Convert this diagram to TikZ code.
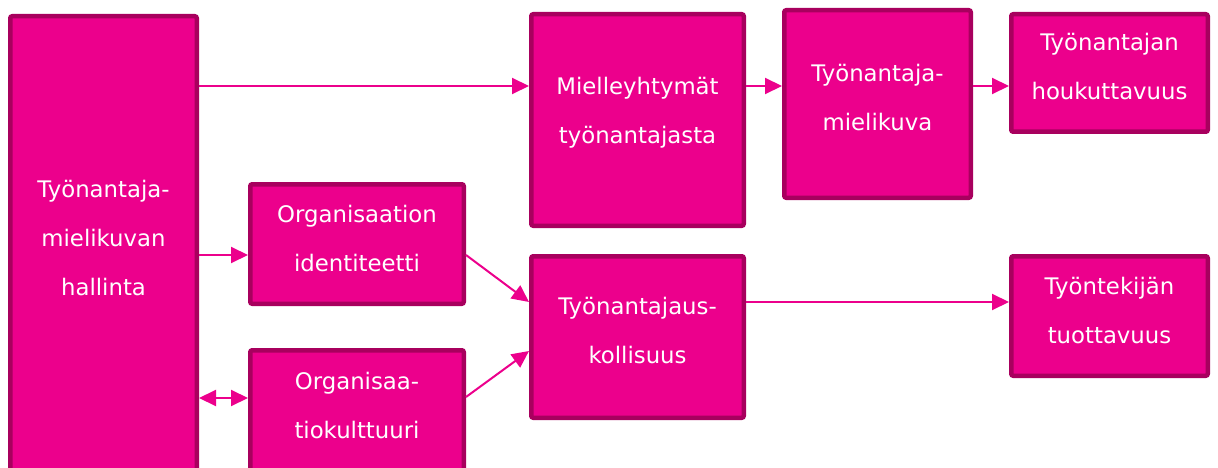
\documentclass[tikz,border=0pt]{standalone}
\usepackage{fontspec}
\setmainfont{DejaVu Sans}
\usetikzlibrary{arrows.meta,calc}
\definecolor{pinkfill}{HTML}{EC008C}
\definecolor{pinkedge}{HTML}{A8005E}
\tikzset{
  box/.style={draw=pinkedge, fill=pinkfill, line width=4.5pt, rounded corners=2pt, inner sep=0pt},
  lbl/.style={text=white, font=\fontsize{22.8}{49}\selectfont, align=center, inner sep=0pt},
  arr/.style={draw=pinkfill, line width=2pt, -{Triangle[length=17pt,width=16pt]}},
  darr/.style={draw=pinkfill, line width=2pt, {Triangle[length=17pt,width=16pt]}-{Triangle[length=17pt,width=16pt]}}
}
\begin{document}
\begin{tikzpicture}[x=1pt,y=-1pt]
\useasboundingbox (0,0) rectangle (1218,468);
\clip (0,0) rectangle (1218,468);
\node[box, minimum width=186.5pt, minimum height=495.5pt] (L) at (103.5,264) {};
\node[box, minimum width=213.5pt, minimum height=119.5pt] (OI) at (357,244) {};
\node[box, minimum width=213.5pt, minimum height=159.5pt] (OK) at (357,430) {};
\node[box, minimum width=212.5pt, minimum height=211.5pt] (M) at (637.5,120) {};
\node[box, minimum width=186.5pt, minimum height=187.5pt] (TM) at (877.5,104) {};
\node[box, minimum width=196.5pt, minimum height=117.5pt] (H) at (1109.5,73) {};
\node[box, minimum width=212.5pt, minimum height=161.5pt] (TU) at (637.5,337) {};
\node[box, minimum width=196.5pt, minimum height=119.5pt] (TT) at (1109.5,316) {};
% labels
\node[lbl] (tL) at (103.5,238) {Työnantaja-\\mielikuvan\\hallinta};
\node[lbl] (tOI) at (357,238.5) {Organisaation\\identiteetti};
\node[lbl] (tOK) at (357,405) {Organisaa-\\tiokulttuuri};
\node[lbl] (tM) at (637.5,113) {Mielleyhtymät\\työnantajasta};
\node[lbl] (tTM) at (877.5,98) {Työnantaja-\\mielikuva};
\node[lbl] (tH) at (1109.5,67) {Työnantajan\\houkuttavuus};
\node[lbl] (tTU) at (637.5,330) {Työnantajaus-\\kollisuus};
\node[lbl] (tTT) at (1109.5,310) {Työntekijän\\tuottavuus};
% connectors
\draw[arr] (L.east |- 0,86) -- (M.west |- 0,86);
\draw[arr] (M.east |- 0,86) -- (TM.west |- 0,86);
\draw[arr] (TM.east |- 0,86) -- (H.west |- 0,86);
\draw[arr] (L.east |- 0,255) -- (OI.west |- 0,255);
\draw[darr] (L.east |- 0,398) -- (OK.west |- 0,398);
\draw[arr] (OI.east |- 0,255) -- (TU.west |- 0,302);
\draw[arr] (OK.east |- 0,397) -- (TU.west |- 0,351);
\draw[arr] (TU.east |- 0,302) -- (TT.west |- 0,302);
\end{tikzpicture}
\end{document}
